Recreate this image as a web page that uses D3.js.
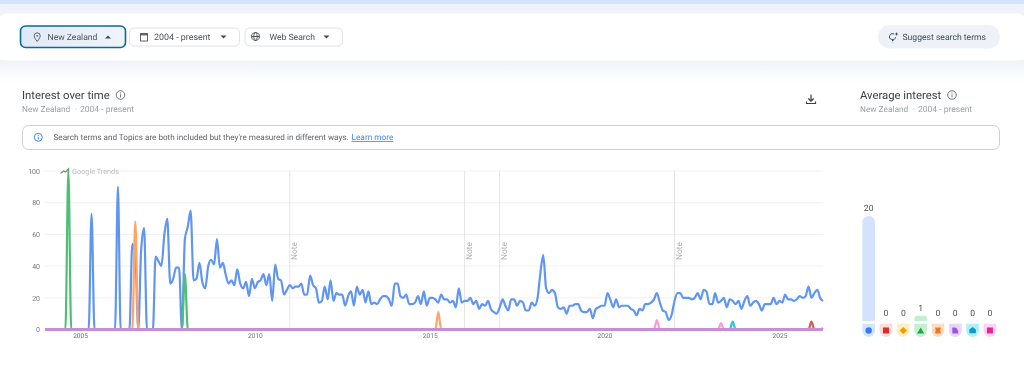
<!DOCTYPE html>
<html>
<head>
<meta charset="utf-8">
<script src="https://cdn.jsdelivr.net/npm/d3@7"></script>
<style>
  html, body { margin: 0; padding: 0; background: #fff; overflow: hidden; }
  svg { display: block; filter: blur(0.4px); }
  text { font-family: Roboto, "Noto Sans", sans-serif; text-rendering: geometricPrecision; }
</style>
</head>
<body>
<div id="chart"></div>
<script>
// monthly samples, one row per year, Jan 2004 - Apr 2026
const blueValues = [
  0, 0, 0, 0, 0, 0, 0, 0, 0, 0, 0, 0,
  0, 0, 0, 0, 73, 0, 0, 0, 0, 0, 0, 0,
  0, 90, 0, 0, 0, 0, 54, 48, 0, 50, 64, 0,
  0, 0, 46, 43, 40, 60, 70, 29, 32, 39, 39, 0,
  57, 65, 75, 31, 32, 42, 30, 26, 40, 44, 41, 57,
  39, 42, 35, 29, 31, 28, 38, 29, 26, 30, 21, 32,
  26, 30, 31, 35, 28, 35, 18, 41, 32, 31, 22, 25,
  28, 26, 27, 27, 29, 22, 22, 34, 28, 26, 17, 18,
  27, 19, 31, 18, 23, 22, 22, 15, 21, 24, 15, 27,
  22, 25, 17, 24, 16, 17, 16, 19, 21, 21, 19, 15,
  29, 29, 21, 20, 22, 16, 16, 17, 21, 16, 24, 15,
  20, 20, 19, 17, 22, 19, 19, 17, 18, 14, 26, 17,
  18, 18, 20, 16, 18, 13, 16, 15, 18, 13, 11, 10,
  14, 19, 15, 12, 19, 19, 15, 18, 17, 12, 12, 17,
  15, 20, 35, 47, 26, 23, 25, 23, 14, 13, 14, 10,
  15, 15, 16, 16, 12, 11, 11, 13, 7, 13, 14, 15,
  15, 23, 19, 14, 19, 14, 15, 15, 15, 13, 12, 9,
  13, 12, 16, 16, 17, 19, 23, 17, 12, 11, 6, 9,
  18, 23, 23, 20, 20, 20, 19, 20, 23, 19, 25, 24,
  16, 16, 23, 17, 18, 20, 14, 19, 18, 16, 18, 13,
  18, 21, 15, 17, 18, 16, 12, 16, 16, 16, 20, 16,
  18, 17, 22, 19, 19, 18, 19, 21, 20, 21, 27, 20,
  23, 25, 20, 18
];
// the other terms sit at zero apart from these months
const redPeaks = [["2025-12", 5]];
const yellowPeaks = [["2026-04", 1]];
const greenPeaks = [["2004-09", 100], ["2008-01", 35]];
const orangePeaks = [["2006-08", 68], ["2015-04", 11]];
const purplePeaks = [];
const cyanPeaks = [["2023-09", 5]];
const pinkPeaks = [["2021-07", 6], ["2023-05", 4]];

const yTicks = [0, 20, 40, 60, 80, 100];
const xTickYears = [2005, 2010, 2015, 2020, 2025];
const noteMonths = ["2011-01", "2016-01", "2017-01", "2022-01"];

const avgValues = [20, 0, 0, 1, 0, 0, 0, 0];
const termNames = ["blue", "red", "yellow", "green", "orange", "purple", "cyan", "pink"];
const lineColors = ["#6096f2", "#db5a50", "#f6ad2b", "#4fbf75", "#ffa366", "#c58ed6", "#2cc4e6", "#ff9ad8"];
const tintColors = ["#d3e3fd", "#fbdcd9", "#feefc3", "#c6efd0", "#fedcc4", "#e9d5fc", "#b0eefc", "#fdd3ef"];
const iconColors = ["#3a78ee", "#d93025", "#f29900", "#1ea64f", "#f2761b", "#9a55e4", "#0f9bbd", "#e52592"];

const width = 1024;
const height = 370;
const parseMonth = d3.timeParse("%Y-%m");

const svg = d3.select("#chart").append("svg")
    .attr("width", width)
    .attr("height", height)
    .attr("viewBox", "0 0 " + width + " " + height);

const defs = svg.append("defs");
const fade = defs.append("linearGradient").attr("id", "fade")
    .attr("x1", 0).attr("x2", 0).attr("y1", 0).attr("y2", 1);
fade.append("stop").attr("offset", 0).attr("stop-color", "#eef2f9");
fade.append("stop").attr("offset", 1).attr("stop-color", "#ffffff");
const chip = defs.append("linearGradient").attr("id", "chip");
chip.append("stop").attr("offset", 0).attr("stop-color", "#dfe9f7");
chip.append("stop").attr("offset", 1).attr("stop-color", "#f0f4fa");

function label(g, x, y, str, size, color, anchor) {
    return g.append("text")
        .attr("x", x).attr("y", y)
        .attr("font-size", size)
        .attr("fill", color)
        .attr("text-anchor", anchor || "start")
        .text(str);
}

function stroked(g, d, color, w) {
    return g.append("path").attr("d", d)
        .attr("fill", "none")
        .attr("stroke", color)
        .attr("stroke-width", w || 1);
}

function infoIcon(g, cx, cy, r, color) {
    g.append("circle").attr("cx", cx).attr("cy", cy).attr("r", r)
        .attr("fill", "none").attr("stroke", color);
    g.append("path")
        .attr("d", "M" + cx + " " + (cy - 0.6) + "V" + (cy + r * 0.55)
            + "M" + cx + " " + (cy - r * 0.6) + "V" + (cy - r * 0.35))
        .attr("stroke", color).attr("fill", "none");
}

function caret(g, cx, cy, up) {
    const s = up ? -1 : 1;
    g.append("path")
        .attr("d", "M" + (cx - 3) + " " + (cy - 1.5 * s) + "H" + (cx + 3) + "L" + cx + " " + (cy + 1.5 * s) + "Z")
        .attr("fill", "#44474e");
}

function subtitle(g, x) {
    label(g, x, 112, "New Zealand", 8.3, "#9aa0a6");
    label(g, x + 53, 112, "·", 8.3, "#9aa0a6");
    label(g, x + 58, 112, "2004 - present", 8.5, "#9aa0a6");
}

function drawHeader() {
    const g = svg.append("g").attr("class", "header");
    g.append("rect").attr("width", width).attr("height", 4.5).attr("fill", "#d3e3fd");
    g.append("rect").attr("y", 4.5).attr("width", width).attr("height", 12).attr("fill", "#eff3f9");
    g.append("rect").attr("y", 60).attr("width", width).attr("height", 22).attr("fill", "url(#fade)");
    g.append("rect").attr("x", -1).attr("y", 13.5).attr("width", width + 2).attr("height", 47)
        .attr("rx", 7).attr("fill", "#fff");

    // location chip is the open one
    g.append("rect").attr("x", 20.5).attr("y", 26).attr("width", 105).attr("height", 21.5)
        .attr("rx", 5).attr("fill", "url(#chip)").attr("stroke", "#0b6a9c").attr("stroke-width", 1.6);
    g.append("rect").attr("x", 129.5).attr("y", 28).attr("width", 110).attr("height", 18)
        .attr("rx", 4.5).attr("fill", "#fff").attr("stroke", "#dfe1e5");
    g.append("rect").attr("x", 245).attr("y", 28).attr("width", 97.5).attr("height", 18)
        .attr("rx", 4.5).attr("fill", "#fff").attr("stroke", "#dfe1e5");

    label(g, 47.5, 40, "New Zealand", 8.6, "#4d5156");
    label(g, 154, 40, "2004 - present", 8.9, "#4d5156");
    label(g, 269.5, 40, "Web Search", 8.6, "#4d5156");
    caret(g, 108, 37, true);
    caret(g, 223.5, 37, false);
    caret(g, 326.5, 37, false);

    // pin
    stroked(g, "M37.2 41.5C35.2 38.8 34.2 37.4 34.2 35.8A3 3 0 0 1 40.2 35.8C40.2 37.4 39.2 38.8 37.2 41.5Z", "#5f6368");
    g.append("circle").attr("cx", 37.2).attr("cy", 35.8).attr("r", 0.9).attr("fill", "#5f6368");
    // calendar
    g.append("rect").attr("x", 140.5).attr("y", 33.5).attr("width", 7).attr("height", 7.5)
        .attr("fill", "none").attr("stroke", "#5f6368");
    g.append("rect").attr("x", 140).attr("y", 33).attr("width", 8).attr("height", 2.4).attr("fill", "#5f6368");
    // globe
    const globe = "M255.5 32.5a4 4 0 1 0 .01 0ZM251.5 36.5h8M255.5 32.5c-2.4 2.4-2.4 5.6 0 8M255.5 32.5c2.4 2.4 2.4 5.6 0 8";
    stroked(g, globe, "#4d5156");

    g.append("rect").attr("x", 878).attr("y", 25).attr("width", 122).attr("height", 23.5)
        .attr("rx", 11.75).attr("fill", "#eef2f8");
    label(g, 902.5, 40, "Suggest search terms", 8.6, "#3c4858");
    stroked(g, "M894 34a3 3 0 1 0 1.5 3.2M892 40.5h1.5M892.6 42h.5", "#3c4858");
    g.append("path").attr("d", "M896.5 32l.6 1.4 1.4.6-1.4.6-.6 1.4-.6-1.4-1.4-.6 1.4-.6Z").attr("fill", "#3c4858");

    label(g, 22, 99, "Interest over time", 11.3, "#3c4043");
    subtitle(g, 22);
    infoIcon(g, 120.5, 95, 4.3, "#70757a");
    label(g, 860, 99, "Average interest", 11.3, "#3c4043");
    subtitle(g, 860);
    infoIcon(g, 952, 95, 4.3, "#70757a");
    stroked(g, "M811 94.5v6.5M808.3 98.5l2.7 2.7 2.7-2.7M806.5 101.5v2h9v-2", "#3c4043", 1.2);

    g.append("rect").attr("x", 22.5).attr("y", 125.5).attr("width", 977).attr("height", 24)
        .attr("rx", 6).attr("fill", "#fff").attr("stroke", "#cfcfcf");
    infoIcon(g, 38.3, 137.3, 4, "#4285f4");
    label(g, 53.5, 140, "Search terms and Topics are both included but they're measured in different ways.", 8.15, "#5f6368");
    label(g, 351.5, 140, "Learn more", 8.3, "#4285f4").attr("text-decoration", "underline");
}

function monthsOf() {
    return blueValues.map((e, i) => new Date(2004, i, 1));
}

function fromPeaks(peaks) {
    /* zero series with the listed months filled in */
    const lookup = new Map(peaks);
    return monthsOf().map(d => lookup.get(d3.timeFormat("%Y-%m")(d)) || 0);
}

function drawLines() {
    const months = monthsOf();
    const xScale = d3.scaleTime().domain([months[0], months[months.length - 1]]).range([45, 823]);
    const yScale = d3.scaleLinear().domain([0, 100]).range([329.5, 171]);

    const yAxis = d3.axisLeft(yScale).tickValues(yTicks).tickSize(0).tickPadding(4);
    const xAxis = d3.axisBottom(xScale)
        .tickValues(xTickYears.map(y => new Date(y, 0, 1)))
        .tickFormat(d3.timeFormat("%Y"))
        .tickSize(0).tickPadding(4);

    const g = svg.append("g").attr("class", "interest");

    g.append("g").selectAll("line").data(yTicks).join("line")
        .attr("x1", 44).attr("x2", 823)
        .attr("y1", d => yScale(d)).attr("y2", d => yScale(d))
        .attr("stroke", "#f1f1f1");

    const yg = g.append("g").attr("transform", "translate(44,0)").call(yAxis);
    const xg = g.append("g").attr("transform", "translate(0,329)").call(xAxis);
    yg.select(".domain").remove();
    xg.select(".domain").remove();
    yg.selectAll("text").attr("font-size", 7).attr("font-family", "Roboto").attr("fill", "#70757a");
    xg.selectAll("text").attr("font-size", 6.6).attr("font-family", "Roboto").attr("fill", "#70757a");

    const notes = noteMonths.map(parseMonth);
    g.append("g").selectAll("line").data(notes).join("line")
        .attr("x1", d => xScale(d)).attr("x2", d => xScale(d))
        .attr("y1", 171).attr("y2", 329)
        .attr("stroke", "#e4e4e4");
    g.append("g").selectAll("text").data(notes).join("text")
        .attr("transform", d => "translate(" + (xScale(d) + 7.5) + ",260) rotate(-90)")
        .attr("font-size", 8.4)
        .attr("fill", "#b0b0b0")
        .text("Note");

    // watermark
    stroked(g, "M60.5 173.5l3-2.5 2 1 3-3v3.5", "#8a8a8a", 1.4);
    label(g, 72, 174, "Google Trends", 7.3, "#bdbdbd");

    const line = d3.line()
        .x((d, i) => xScale(months[i]))
        .y(d => yScale(d))
        .curve(d3.curveMonotoneX);

    const series = [blueValues, fromPeaks(redPeaks), fromPeaks(yellowPeaks), fromPeaks(greenPeaks),
        fromPeaks(orangePeaks), fromPeaks(purplePeaks), fromPeaks(cyanPeaks), fromPeaks(pinkPeaks)];

    // purple stays flat at zero and goes on top, which is why the zero line looks mauve
    const order = [0, 1, 2, 3, 4, 6, 7, 5];
    g.append("g").attr("class", "series").selectAll("path").data(order).join("path")
        .attr("d", k => line(series[k]))
        .attr("fill", "none")
        .attr("stroke", k => lineColors[k])
        .attr("stroke-width", k => k == 5 ? 2.8 : 2.2)
        .attr("stroke-linejoin", "round");
}

function drawAverages() {
    const band = d3.scaleBand().domain(termNames).range([860, 998.6]).paddingInner(0.27).paddingOuter(0.135);
    const yBar = d3.scaleLinear().domain([0, 20]).range([321, 216]);
    const g = svg.append("g").attr("class", "averages");
    const bw = band.bandwidth();

    g.selectAll(".bar").data(termNames).join("path")
        .attr("class", "bar")
        .attr("d", (d, i) => {
            const x = band(d), top = yBar(avgValues[i]);
            const r = Math.min(bw / 2, (321 - top) / 2);
            if (avgValues[i] == 0) return null;
            return "M" + x + " 321V" + (top + r) + "A" + r + " " + r + " 0 0 1 " + (x + r) + " " + top
                + "H" + (x + bw - r) + "A" + r + " " + r + " 0 0 1 " + (x + bw) + " " + (top + r) + "V321Z";
        })
        .attr("fill", (d, i) => tintColors[i]);

    g.selectAll(".value").data(termNames).join("text")
        .attr("class", "value")
        .attr("x", d => band(d) + bw / 2)
        .attr("y", (d, i) => yBar(avgValues[i]) - 5)
        .attr("text-anchor", "middle")
        .attr("font-size", 8.6)
        .attr("fill", "#4d5156")
        .text((d, i) => avgValues[i]);

    // rounded bottom chips holding each term's marker
    g.selectAll(".chip").data(termNames).join("path")
        .attr("class", "chip")
        .attr("d", d => {
            const x = band(d);
            return "M" + x + " 323.7H" + (x + bw) + "V331A6.35 6.7 0 0 1 " + x + " 331Z";
        })
        .attr("fill", (d, i) => tintColors[i]);

    const shapes = [
        "M0-3.2A3.2 3.2 0 1 1 0 3.2A3.2 3.2 0 1 1 0-3.2Z",
        "M-3-3H3V3H-3Z",
        "M0-3.6L3.6 0L0 3.6L-3.6 0Z",
        "M0-3L3.6 3H-3.6Z",
        "M-3-3H3L2.2 0L3 3H-3L-2.2 0Z",
        "M-3-3H-0.5C1.8-3 3 0 3 3H-3Z",
        "M0-3.4L3.3-1V2.8H-3.3V-1Z",
        "M-3-3H3V3H-3Z"
    ];
    g.selectAll(".icon").data(termNames).join("path")
        .attr("class", "icon")
        .attr("transform", d => "translate(" + (band(d) + bw / 2) + ",330.5)")
        .attr("d", (d, i) => shapes[i])
        .attr("fill", (d, i) => iconColors[i]);
}

drawHeader();
drawLines();
drawAverages();
</script>
</body>
</html>
